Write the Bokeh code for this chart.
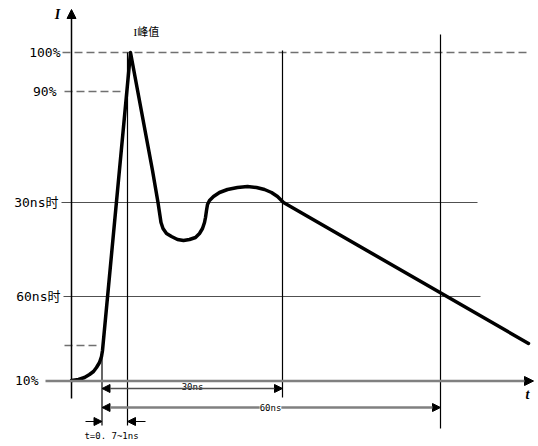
from bokeh.plotting import figure
from bokeh.models import Range1d, Arrow, NormalHead, ColumnDataSource, LabelSet
from bokeh.core.properties import value
from bokeh.embed import file_html
from bokeh.resources import INLINE

# ---- schematic data (coordinates of the drawing, y grows downward) ----
pulse_x = [71, 78, 84, 89, 93, 96, 99, 101, 102, 130,
           152, 157.5, 160.5, 162.5, 166, 171, 177, 183, 189, 195, 199, 202, 204,
           205, 206, 207, 209, 213, 219, 227, 237, 247, 256, 264, 271, 277, 283, 528]
pulse_y = [380, 379, 377, 374, 371, 367, 362, 356, 350, 52,
           170, 202, 222, 228, 233, 236, 239, 240, 239, 237, 233, 228, 222,
           217, 210, 204, 200, 196, 192, 189, 187, 186, 187, 189, 192, 196, 202, 343]

level_labels = ["100%", "90%", "30ns时", "60ns时", "10%"]
level_y = [52, 91, 202, 296, 380]
level_label_x = [60, 56, 58, 60, 38]

dashed_x0 = [62, 64, 64]
dashed_x1 = [527, 122, 96]
dashed_y = [52, 91, 345]

hline_x0 = [61, 63]
hline_x1 = [477, 480]
hline_y = [202, 296]

vline_x = [101.5, 127, 282, 440]
vline_top = [353, 52, 50, 34]
vline_bottom = [425, 425, 397, 428]

span_labels = ["30ns", "60ns"]
span_start = [101.5, 101.5]
span_end = [282, 440]
span_y = [388, 407]
span_label_x = [192, 270]

rise_label = "t=0. 7~1ns"
rise_arrow_from = [85, 145]
rise_arrow_to = [101.5, 127]
rise_arrow_y = [421, 421]

p = figure(width=538, height=446, x_range=Range1d(0, 538), y_range=Range1d(446, 0),
           output_backend="svg", toolbar_location=None, min_border=0,
           x_axis_location=None, y_axis_location=None)
p.grid.visible = False
p.outline_line_color = None
p.background_fill_color = "white"
p.border_fill_color = "white"

mono = value("'DejaVu Sans Mono', 'Noto Sans CJK SC'")

# dashed reference levels
p.segment(x0=dashed_x0, x1=dashed_x1, y0=dashed_y, y1=dashed_y,
          line_color="#707070", line_width=1.5, line_dash="8 4")
# solid level lines
p.segment(x0=hline_x0, x1=hline_x1, y0=hline_y, y1=hline_y,
          line_color="#505050", line_width=1.2)
# vertical time markers
p.segment(x0=vline_x, x1=vline_x, y0=vline_top, y1=vline_bottom,
          line_color="black", line_width=1.2)

# axes
axes_src = ColumnDataSource(dict(x0=[71, 45], y0=[398, 380.5], x1=[71, 533], y1=[9, 380.5],
                                 c=["black", "#808080"], w=[1.5, 2.5]))
p.add_layout(Arrow(source=axes_src, x_start="x0", y_start="y0", x_end="x1", y_end="y1",
                   line_color="c", line_width="w",
                   end=NormalHead(size=9, fill_color="black", line_color="black", line_width=1)))

# pulse curve
p.line(pulse_x, pulse_y, line_color="black", line_width=3.5, line_join="round", line_cap="round")

# dimension arrows
span_src = ColumnDataSource(dict(x0=span_start, x1=span_end, y=span_y,
                                 c=["#505050", "#808080"], w=[1.5, 2.5]))
p.add_layout(Arrow(source=span_src, x_start="x0", y_start="y", x_end="x1", y_end="y",
                   line_color="c", line_width="w",
                   start=NormalHead(size=8, fill_color="black", line_color="black", line_width=1),
                   end=NormalHead(size=8, fill_color="black", line_color="black", line_width=1)))
rise_src = ColumnDataSource(dict(x0=rise_arrow_from, x1=rise_arrow_to, y=rise_arrow_y))
p.add_layout(Arrow(source=rise_src, x_start="x0", y_start="y", x_end="x1", y_end="y",
                   line_color="black", line_width=1.2,
                   end=NormalHead(size=8, fill_color="black", line_color="black", line_width=1)))

# level labels
p.text(x=level_label_x, y=level_y, text=level_labels, text_font=mono,
       text_font_size="13px", text_align="right", text_baseline="middle", text_color="black")

# span labels
p.text(x=[span_label_x[0]], y=[span_y[0] - 2], text=[span_labels[0]], text_font=mono,
       text_font_size="9px", text_align="center", text_baseline="middle", text_color="black")
lab_src = ColumnDataSource(dict(x=[span_label_x[1]], y=[span_y[1]], t=[span_labels[1]]))
p.add_layout(LabelSet(x="x", y="y", text="t", source=lab_src, text_font=mono,
                      text_font_size="9px", text_align="center", text_baseline="middle",
                      background_fill_color="white", text_color="black"))
p.text(x=[111], y=[435], text=[rise_label], text_font=mono,
       text_font_size="9px", text_align="center", text_baseline="middle", text_color="black")

# peak label
p.text(x=[133], y=[31], text=["I峰值"], text_font=value("'Liberation Serif', 'Noto Sans CJK SC'"),
       text_font_size="11px", text_align="left", text_baseline="middle", text_color="black")

# axis titles
p.text(x=[57, 527], y=[14, 394], text=["I", "t"], text_font=value("Liberation Serif"),
       text_font_style="bold italic", text_font_size="14px", text_align="center",
       text_baseline="middle", text_color="black")

open("out.html", "w").write(file_html(p, INLINE))
